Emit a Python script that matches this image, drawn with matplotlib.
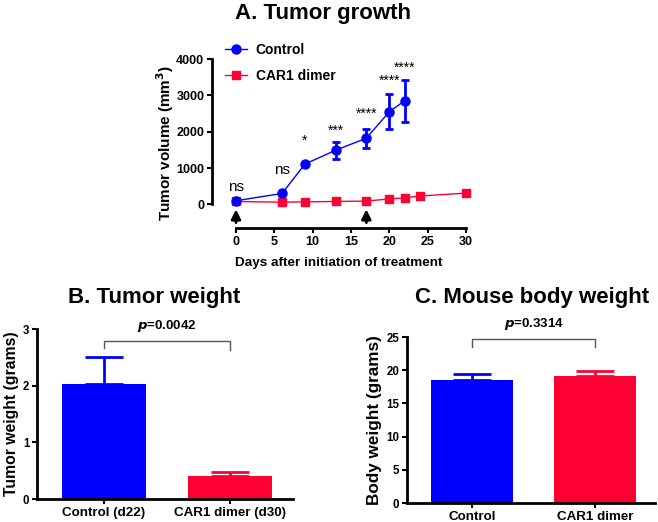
import matplotlib
matplotlib.use('Agg')
import matplotlib.pyplot as plt

plt.rcParams['font.family'] = ['Liberation Sans', 'DejaVu Sans']
plt.rcParams['font.weight'] = 'bold'

BLUE = '#0000ff'
RED = '#ff0033'

# A. Tumor growth
days_ctrl = [0, 6, 9, 13, 17, 20, 22]
vol_ctrl = [100, 300, 1110, 1490, 1820, 2550, 2850]
err_ctrl = [20, 30, 40, 230, 260, 480, 580]
days_car = [0, 6, 9, 13, 17, 20, 22, 24, 30]
vol_car = [80, 60, 70, 80, 90, 150, 180, 230, 310]
err_car = [10, 10, 10, 10, 10, 20, 20, 20, 80]
sig_labels = ['ns', 'ns', '*', '***', '****', '****', '****']
sig_y = [280, 740, 1570, 1840, 2300, 3200, 3560]
arrow_days = [0, 17]

# B. Tumor weight
groups_b = ['Control (d22)', 'CAR1 dimer (d30)']
weight_b = [2.03, 0.40]
err_b = [0.48, 0.07]
p_b = '0.0042'

# C. Mouse body weight
groups_c = ['Control', 'CAR1 dimer']
weight_c = [18.5, 19.1]
err_c = [0.9, 0.8]
p_c = '0.3314'

W, H = 658, 522
fig = plt.figure(figsize=(W / 100, H / 100), dpi=100)


def px_axes(left, top, right, bottom):
    return fig.add_axes([left / W, 1 - bottom / H, (right - left) / W, (bottom - top) / H])


def style(ax, size):
    for s in ['top', 'right']:
        ax.spines[s].set_visible(False)
    for s in ['left', 'bottom']:
        ax.spines[s].set_linewidth(2)
    ax.tick_params(width=1.5, length=3.5, pad=2, labelsize=size, direction='out')
    for lab in ax.get_xticklabels() + ax.get_yticklabels():
        lab.set_fontweight('bold')


# ---- panel A
ax = px_axes(212, 59, 466, 228)
ax.set_xlim(-3.13, 30)
ax.set_ylim(-650, 4000)
ax.plot(days_ctrl, vol_ctrl, color=BLUE, marker='o', ms=6.5, lw=1,
        clip_on=False, label='Control', zorder=4)
ax.plot(days_car, vol_car, color=RED, marker='s', ms=5.5, lw=1,
        clip_on=False, label='CAR1 dimer', zorder=3)
ax.errorbar(days_ctrl, vol_ctrl, yerr=err_ctrl, fmt='none', ecolor=BLUE,
            elinewidth=2, capsize=3, capthick=2, clip_on=False, zorder=4)
ax.errorbar(days_car, vol_car, yerr=err_car, fmt='none', ecolor=RED,
            elinewidth=2, capsize=3, capthick=2, clip_on=False, zorder=3)
for d, lab, y in zip(days_ctrl, sig_labels, sig_y):
    ax.text(d, y, lab, ha='center', va='bottom', fontweight='normal',
            fontsize=11 if lab == 'ns' else 10)
for d in arrow_days:
    ax.annotate('', xy=(d, -60), xytext=(d, -580),
                arrowprops=dict(arrowstyle='-|>', color='black', lw=2,
                                mutation_scale=14))
ax.spines['left'].set_bounds(0, 4000)
ax.spines['bottom'].set_bounds(0, 30)
ax.spines['bottom'].set_position(('data', -650))
ax.set_xticks([0, 5, 10, 15, 20, 25, 30])
ax.set_yticks([0, 1000, 2000, 3000, 4000])
style(ax, 9)
ax.set_xlabel('Days after initiation of treatment', fontsize=9.7, fontweight='bold', labelpad=7)
ax.set_ylabel('Tumor volume (mm$^\\mathbf{3}$)', fontsize=11, fontweight='bold', labelpad=0)
ax.legend(loc='upper left', bbox_to_anchor=(225 / W, 1 - 43 / H),
          bbox_transform=fig.transFigure, frameon=False, borderpad=0,
          borderaxespad=0, prop={'weight': 'bold', 'size': 10},
          handlelength=1.6, handletextpad=0.6, labelspacing=0.85)
fig.text(323 / W, 1 - 13 / H, 'A. Tumor growth', ha='center', va='center',
         fontsize=16, fontweight='bold')


def bar_panel(ax, groups, vals, errs, ylim, yticks, ylabel, ylsize, pval,
              br_y, br_l, br_r, p_y):
    x = range(len(groups))
    ax.bar(x, vals, width=0.67, color=[BLUE, RED], zorder=2)
    for i, (v, e, c) in enumerate(zip(vals, errs, [BLUE, RED])):
        ax.errorbar(i, v, yerr=[[0], [e]], color=c, elinewidth=2, capsize=14,
                    capthick=2, zorder=1)
    ax.plot([0, 0, 1, 1], [br_l, br_y, br_y, br_r], color='#555555', lw=1, clip_on=False)
    ax.text(0.5, p_y, f'$\\mathbfit{{p}}$={pval}', ha='center', va='bottom',
            fontsize=9.5, fontweight='bold')
    ax.set_xticks(list(x))
    ax.set_xticklabels(groups)
    ax.set_ylim(*ylim)
    ax.set_yticks(yticks)
    style(ax, 8.3)
    for lab in ax.get_xticklabels():
        lab.set_fontsize(9.6)
    ax.set_ylabel(ylabel, fontsize=ylsize, fontweight='bold', labelpad=3)


# ---- panel B
axb = px_axes(37, 329, 293, 499)
axb.set_xlim(-0.53, 1.5)
bar_panel(axb, groups_b, weight_b, err_b, (0, 3), [0, 1, 2, 3],
          'Tumor weight (grams)', 11.3, p_b, 2.78, 2.66, 2.63, 2.92)
fig.text(154 / W, 1 - 297 / H, 'B. Tumor weight', ha='center', va='center',
         fontsize=16, fontweight='bold')

# ---- panel C
axc = px_axes(407, 337, 655, 503)
axc.set_xlim(-0.53, 1.49)
bar_panel(axc, groups_c, weight_c, err_c, (0, 25), [0, 5, 10, 15, 20, 25],
          'Body weight (grams)', 12.3, p_c, 24.75, 23.5, 23.5, 25.7)
fig.text(532 / W, 1 - 297 / H, 'C. Mouse body weight', ha='center', va='center',
         fontsize=16, fontweight='bold')

fig.savefig('out.png', dpi=100)
